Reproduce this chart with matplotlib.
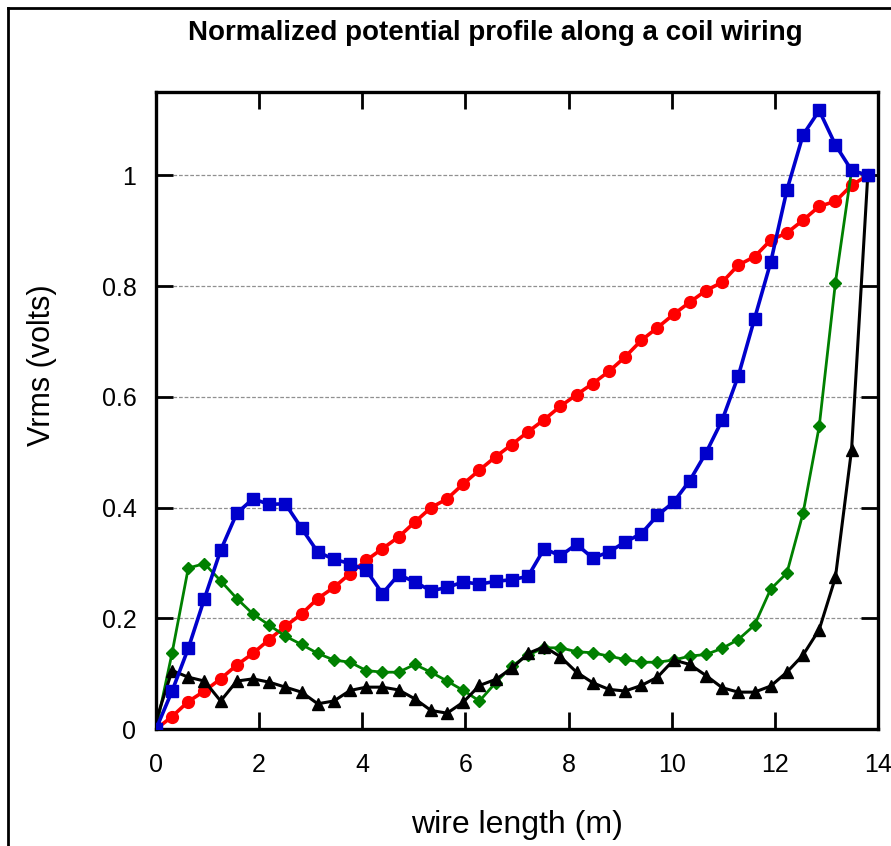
import numpy as np
import matplotlib
matplotlib.use("Agg")
import matplotlib.pyplot as plt
from matplotlib.lines import Line2D

plt.rcParams['font.family'] = ['Liberation Sans', 'DejaVu Sans']

# 45 sample points along the wire (m)
n_points = 45
wire_end = 13.8
x = np.linspace(0, wire_end, n_points)

red = [0.0, 0.023, 0.050, 0.069, 0.091, 0.116, 0.137, 0.162, 0.186, 0.208,
       0.236, 0.256, 0.281, 0.305, 0.326, 0.347, 0.374, 0.400, 0.416, 0.443,
       0.468, 0.492, 0.514, 0.537, 0.559, 0.583, 0.604, 0.624, 0.646, 0.672,
       0.702, 0.725, 0.749, 0.771, 0.792, 0.807, 0.838, 0.853, 0.883, 0.896,
       0.919, 0.944, 0.953, 0.982, 1.0]

blue = [0.0, 0.069, 0.146, 0.236, 0.323, 0.390, 0.416, 0.406, 0.407, 0.363,
        0.320, 0.307, 0.299, 0.287, 0.245, 0.279, 0.266, 0.250, 0.256, 0.266,
        0.262, 0.267, 0.270, 0.276, 0.326, 0.313, 0.334, 0.309, 0.320, 0.338,
        0.353, 0.386, 0.410, 0.449, 0.499, 0.558, 0.638, 0.741, 0.843, 0.973,
        1.073, 1.117, 1.055, 1.009, 1.0]

green = [0.0, 0.138, 0.291, 0.299, 0.268, 0.236, 0.208, 0.188, 0.168, 0.153,
         0.137, 0.125, 0.121, 0.106, 0.103, 0.103, 0.117, 0.103, 0.087, 0.070,
         0.051, 0.084, 0.114, 0.134, 0.147, 0.147, 0.140, 0.138, 0.132, 0.126,
         0.121, 0.121, 0.125, 0.132, 0.135, 0.146, 0.162, 0.188, 0.253, 0.282,
         0.390, 0.547, 0.806, 1.009, 1.0]

black = [0.015, 0.106, 0.094, 0.087, 0.051, 0.087, 0.091, 0.085, 0.076, 0.067,
         0.046, 0.051, 0.070, 0.076, 0.076, 0.071, 0.055, 0.034, 0.029, 0.049,
         0.079, 0.090, 0.110, 0.137, 0.149, 0.131, 0.103, 0.084, 0.072, 0.069,
         0.079, 0.094, 0.125, 0.117, 0.097, 0.075, 0.067, 0.067, 0.078, 0.103,
         0.134, 0.180, 0.274, 0.505, 1.0]

fig = plt.figure(figsize=(8.91, 8.46), dpi=100)
ax = fig.add_axes([0.175, 0.138, 0.8105, 0.753])

# outer frame (top and left only, like the cropped original)
fig.add_artist(Line2D([0.009, 0.009], [0.0, 0.991], transform=fig.transFigure,
                      color='black', lw=2))
fig.add_artist(Line2D([0.009, 1.0], [0.991, 0.991], transform=fig.transFigure,
                      color='black', lw=2))

ax.plot(x, red, color='#ff0000', lw=2.6, marker='o', ms=8.5, zorder=3)
ax.plot(x, green, color='#008000', lw=2.0, marker='D', ms=6.5, zorder=4)
ax.plot(x, black, color='black', lw=2.2, marker='^', ms=8, zorder=5)
ax.plot(x, blue, color='#0000cc', lw=2.6, marker='s', ms=9, zorder=6)

ax.set_xlim(0, 14)
ax.set_ylim(0, 1.15)
ax.set_xticks(np.arange(0, 15, 2))
ax.set_yticks([0, 0.2, 0.4, 0.6, 0.8, 1.0])
ax.set_yticklabels(['0', '0.2', '0.4', '0.6', '0.8', '1'])

for yv in [0.2, 0.4, 0.6, 0.8, 1.0]:
    ax.axhline(yv, color='#909090', lw=0.9, ls=(0, (3, 1.5)), zorder=1)

ax.tick_params(direction='in', length=12, width=2, labelsize=18,
               top=True, right=True)
ax.tick_params(axis='x', pad=17)
ax.tick_params(axis='y', pad=14)
for s in ax.spines.values():
    s.set_linewidth(2.4)

fig.text(0.5556, 0.961, 'Normalized potential profile along a coil wiring',
         fontsize=20, fontweight='bold', ha='center', va='center')
ax.set_xlabel('wire length (m)', fontsize=23, labelpad=24)
ax.set_ylabel('Vrms (volts)', fontsize=22)
ax.yaxis.set_label_coords(-0.137, 0.571)

fig.savefig('out.png', dpi=100)
